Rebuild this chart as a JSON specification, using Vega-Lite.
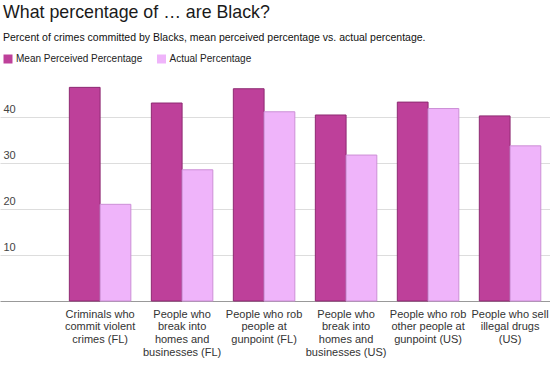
{
  "$schema": "https://vega.github.io/schema/vega-lite/v6.json",
  "width": 550,
  "height": 221,
  "autosize": {"type": "none"},
  "padding": {"left": 0, "top": 80, "right": 0, "bottom": 65},
  "background": "white",
  "title": {
    "text": "What percentage of … are Black?",
    "subtitle": "Percent of crimes committed by Blacks, mean perceived percentage vs. actual percentage.",
    "anchor": "start",
    "frame": "group",
    "dx": 3,
    "offset": 10,
    "font": "Liberation Sans",
    "fontSize": 17.8,
    "fontWeight": "normal",
    "color": "#1a1a1a",
    "subtitleFont": "Liberation Sans",
    "subtitleFontSize": 10.5,
    "subtitleColor": "#111111",
    "subtitlePadding": 12
  },
  "data": {
    "values": [
      {"category": "Criminals who commit violent crimes (FL)", "measure": "Mean Perceived Percentage", "value": 46.4},
      {"category": "Criminals who commit violent crimes (FL)", "measure": "Actual Percentage", "value": 21.0},
      {"category": "People who break into homes and businesses (FL)", "measure": "Mean Perceived Percentage", "value": 43.0},
      {"category": "People who break into homes and businesses (FL)", "measure": "Actual Percentage", "value": 28.5},
      {"category": "People who rob people at gunpoint (FL)", "measure": "Mean Perceived Percentage", "value": 46.1},
      {"category": "People who rob people at gunpoint (FL)", "measure": "Actual Percentage", "value": 41.1},
      {"category": "People who break into homes and businesses (US)", "measure": "Mean Perceived Percentage", "value": 40.4},
      {"category": "People who break into homes and businesses (US)", "measure": "Actual Percentage", "value": 31.7},
      {"category": "People who rob other people at gunpoint (US)", "measure": "Mean Perceived Percentage", "value": 43.2},
      {"category": "People who rob other people at gunpoint (US)", "measure": "Actual Percentage", "value": 41.8},
      {"category": "People who sell illegal drugs (US)", "measure": "Mean Perceived Percentage", "value": 40.2},
      {"category": "People who sell illegal drugs (US)", "measure": "Actual Percentage", "value": 33.7}
    ]
  },
  "mark": {"type": "bar", "strokeWidth": 1},
  "encoding": {
    "x": {
      "field": "category",
      "type": "nominal",
      "sort": null,
      "scale": {"paddingInner": 0.25, "paddingOuter": 0.479, "align": 0.883},
      "axis": {
        "title": null,
        "labelAngle": 0,
        "ticks": false,
        "domain": true,
        "domainColor": "#999999",
        "domainWidth": 1,
        "labelFont": "Liberation Sans",
        "labelFontSize": 11,
        "labelLineHeight": 12.7,
        "labelColor": "#333333",
        "labelPadding": 7,
        "labelBaseline": "top",
        "encoding": {
          "labels": {
            "update": {
              "dx": {"signal": "-4.2 - 4.16 * indexof(['Criminals who commit violent crimes (FL)', 'People who break into homes and businesses (FL)', 'People who rob people at gunpoint (FL)', 'People who break into homes and businesses (US)', 'People who rob other people at gunpoint (US)', 'People who sell illegal drugs (US)'], datum.value)"}
            }
          }
        },
        "labelExpr": "datum.value == 'Criminals who commit violent crimes (FL)' ? ['Criminals who', 'commit violent', 'crimes (FL)'] : datum.value == 'People who break into homes and businesses (FL)' ? ['People who', 'break into', 'homes and', 'businesses (FL)'] : datum.value == 'People who rob people at gunpoint (FL)' ? ['People who rob', 'people at', 'gunpoint (FL)'] : datum.value == 'People who break into homes and businesses (US)' ? ['People who', 'break into', 'homes and', 'businesses (US)'] : datum.value == 'People who rob other people at gunpoint (US)' ? ['People who rob', 'other people at', 'gunpoint (US)'] : ['People who sell', 'illegal drugs', '(US)']"
      }
    },
    "xOffset": {
      "field": "measure",
      "type": "nominal",
      "sort": ["Mean Perceived Percentage", "Actual Percentage"],
      "scale": {"paddingInner": 0, "paddingOuter": 0}
    },
    "y": {
      "field": "value",
      "type": "quantitative",
      "scale": {"domain": [0, 48], "nice": false},
      "axis": {
        "title": null,
        "values": [10, 20, 30, 40],
        "ticks": false,
        "tickSize": 0,
        "domain": false,
        "grid": true,
        "gridColor": "#dddddd",
        "gridWidth": 1,
        "labelAlign": "left",
        "labelBaseline": "alphabetic",
        "labelPadding": -3,
        "labelOffset": -4,
        "labelFont": "Liberation Sans",
        "labelFontSize": 11,
        "labelColor": "#444444"
      }
    },
    "color": {
      "field": "measure",
      "type": "nominal",
      "scale": {
        "domain": ["Mean Perceived Percentage", "Actual Percentage"],
        "range": ["#be409a", "#efb4fa"]
      },
      "legend": {
        "title": null,
        "orient": "none",
        "legendX": 3,
        "legendY": -26,
        "direction": "horizontal",
        "symbolType": "square",
        "symbolSize": 81,
        "symbolStrokeWidth": 0,
        "labelFont": "Liberation Sans",
        "labelFontSize": 10,
        "labelColor": "#222222",
        "labelOffset": 3,
        "columnPadding": 13.5,
        "padding": 0
      }
    },
    "stroke": {
      "field": "measure",
      "type": "nominal",
      "scale": {
        "domain": ["Mean Perceived Percentage", "Actual Percentage"],
        "range": ["#8e2a72", "#cc8fd6"]
      },
      "legend": null
    }
  },
  "config": {
    "view": {"stroke": null}
  }
}
